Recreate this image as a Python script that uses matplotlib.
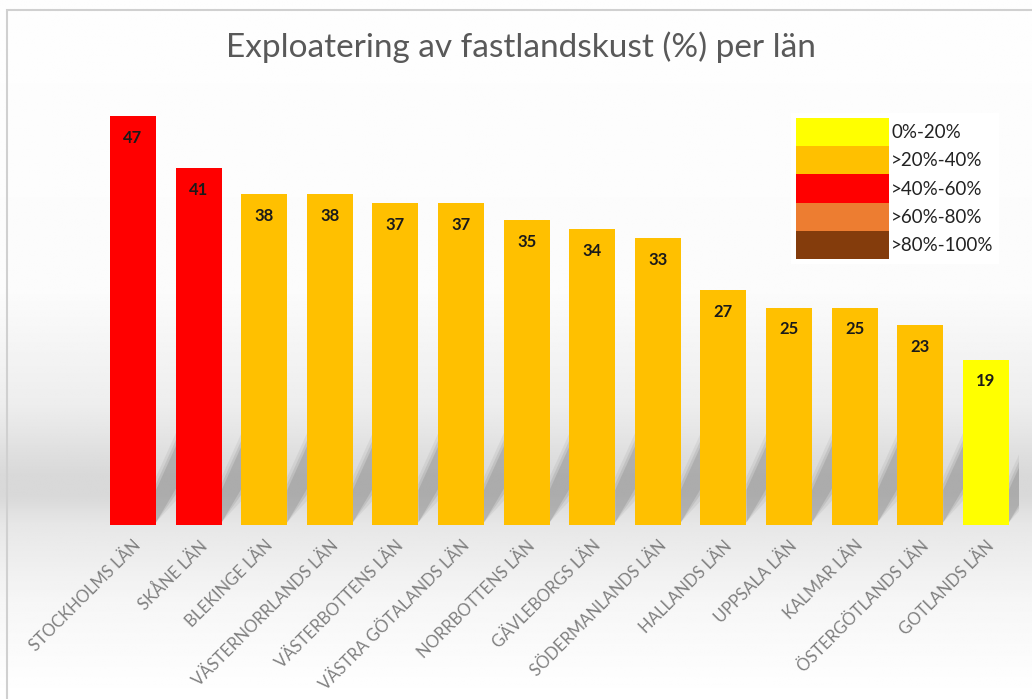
import numpy as np
import matplotlib
matplotlib.use("Agg")
import matplotlib.pyplot as plt
from matplotlib.patches import Patch, Rectangle, Polygon

lan = ["STOCKHOLMS LÄN", "SKÅNE LÄN", "BLEKINGE LÄN", "VÄSTERNORRLANDS LÄN",
       "VÄSTERBOTTENS LÄN", "VÄSTRA GÖTALANDS LÄN", "NORRBOTTENS LÄN",
       "GÄVLEBORGS LÄN", "SÖDERMANLANDS LÄN", "HALLANDS LÄN", "UPPSALA LÄN",
       "KALMAR LÄN", "ÖSTERGÖTLANDS LÄN", "GOTLANDS LÄN"]
andel = [47, 41, 38, 38, 37, 37, 35, 34, 33, 27, 25, 25, 23, 19]

klass_namn = ["0%-20%", ">20%-40%", ">40%-60%", ">60%-80%", ">80%-100%"]
klass_grans = [0, 20, 40, 60, 80, 100]
klass_farg = ["#FFFF00", "#FFC000", "#FF0000", "#ED7D31", "#843C0C"]


def farg_for(v):
    for i in range(len(klass_namn)):
        if v <= klass_grans[i + 1]:
            return klass_farg[i]
    return klass_farg[-1]


fig = plt.figure(figsize=(10.32, 6.99), dpi=100)

# bakgrund: vertikal grå gradient
bg = fig.add_axes([0, 0, 1, 1], zorder=0)
bg.set_axis_off()
yy = np.linspace(0, 1, 400)  # 0 = topp
stops_y = [0.0, 0.42, 0.58, 0.68, 0.71, 0.75, 0.86, 1.0]
stops_v = [0.995, 0.985, 0.93, 0.85, 0.85, 0.905, 0.965, 1.0]
g = np.interp(yy, stops_y, stops_v)
bg.imshow(np.tile(g[:, None], (1, 10)), cmap="gray", vmin=0, vmax=1,
          aspect="auto", extent=[0, 1, 0, 1], interpolation="bilinear")
bg.set_xlim(0, 1)
bg.set_ylim(0, 1)
bg.add_patch(Rectangle((7 / 1032, -0.01), 1.1, 1 - 10 / 699 + 0.01,
                       fill=False, edgecolor="#d0d0d0", lw=1.5))

ax = fig.add_axes([100.2 / 1032, 174 / 699, 918.4 / 1032, 435 / 699], zorder=1)
ax.patch.set_alpha(0)
x = np.arange(len(lan))

# mjuka diagonala skuggor bakom staplarna
for xi in x:
    for k, a in [(2.0, 0.08), (1.2, 0.12), (0.5, 0.16)]:
        ax.add_patch(Polygon([(xi + 0.35, 0.3), (xi + 0.35, 3.5 + k),
                              (xi + 0.68, 9.0 + k), (xi + 0.68, 5.0 - k)],
                             closed=True, facecolor="#505050", alpha=a,
                             edgecolor="none", zorder=1))

ax.bar(x, andel, width=0.7, color=[farg_for(v) for v in andel], zorder=2)
ax.set_xlim(-0.5, len(lan) - 0.5)
ax.set_ylim(0, 50)
for xi, v in zip(x, andel):
    ax.text(xi, v - 2.5, str(v), ha="center", va="center", fontsize=12,
            color="#1a1a1a", fontweight="bold", family="Lato", zorder=3)

ax.set_xticks(x)
ax.set_xticklabels(lan, rotation=45, ha="right", va="top",
                   rotation_mode="anchor", fontsize=12, color="#808080",
                   family="Lato")
ax.tick_params(axis="x", length=0, pad=9)
ax.set_yticks([])
for s in ax.spines.values():
    s.set_visible(False)

handles = [Patch(facecolor=c, edgecolor="none") for c in klass_farg]
leg = ax.legend(handles, klass_namn, loc="upper left",
                bbox_to_anchor=(791 / 1032, 1 - 113 / 699),
                bbox_transform=fig.transFigure, frameon=True, fancybox=False,
                edgecolor="none", facecolor="white", framealpha=1,
                handlelength=5.0, handleheight=1.95, labelspacing=0,
                handletextpad=0.1, borderpad=0.25, borderaxespad=0,
                prop={"family": "Lato", "size": 13.5})
leg.set_zorder(5)
for t in leg.get_texts():
    t.set_color("#222222")

fig.text(0.505, 1 - 47 / 699, "Exploatering av fastlandskust (%) per län",
         ha="center", va="center", fontsize=24, color="#595959",
         family="Lato")

fig.savefig("out.png", dpi=100)
